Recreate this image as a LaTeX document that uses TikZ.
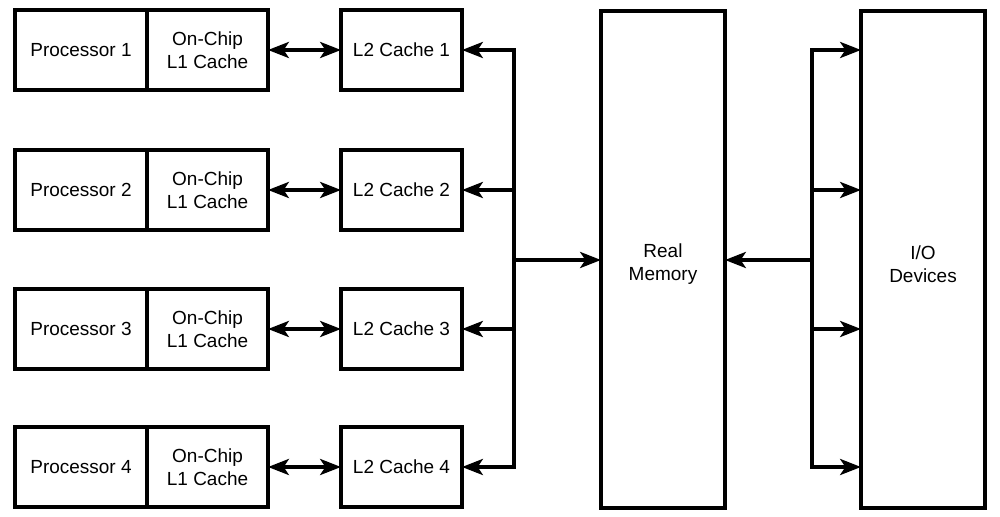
\documentclass[tikz,border=0pt]{standalone}
\usepackage{fontspec}
\setmainfont{Liberation Sans}
\usetikzlibrary{arrows.meta}
\usetikzlibrary{positioning}
\tikzset{
  unitbox/.style={draw, line width=2.5pt, outer sep=0pt, inner sep=0pt,
    minimum height=2cm, align=center, font=\fontsize{13.5}{16.3}\selectfont},
  link/.style={line width=2.6pt},
  >={Stealth[length=5.2mm,width=4mm,inset=1.3mm]}
}
\newcommand{\cpurow}[2]{
  \node[unitbox, minimum width=3.3cm] (proc#1) at (81,#2) {Processor #1};
  \node[unitbox, minimum width=3.025cm, right=0pt of proc#1] (lone#1) {On-Chip\\L1 Cache};
  \node[unitbox, minimum width=3.025cm] (ltwo#1) at (401.5,#2) {L2 Cache #1};
  \draw[link,<->] (lone#1) -- (ltwo#1);}

\begin{document}
\begin{tikzpicture}[x=0.025cm, y=-0.025cm]
        \useasboundingbox (0,0) rectangle (1000,517);

        % processors with their caches
        \cpurow{1}{50}
        \cpurow{2}{190}
        \cpurow{3}{329}
        \cpurow{4}{467}

        % memory and devices
        \node[unitbox, minimum width=3.1cm, minimum height=12.425cm, text height=33pt] (mem) at (663,259.5) {Real\\Memory};
        \node[unitbox, minimum width=3.1cm, minimum height=12.425cm, text height=33pt] (io) at (923,259.5) {I/O\\Devices};

        % left bus
        \coordinate (lbus) at (514,260);
        \draw[link,<->] (ltwo1.east) -| (lbus) |- (ltwo4.east);
        \draw[link,->] (lbus |- ltwo2) -- (ltwo2.east);
        \draw[link,->] (lbus |- ltwo3) -- (ltwo3.east);
        \draw[link,->] (lbus) -- (lbus -| mem.west);

        % right bus
        \coordinate (rbus) at (812,260);
        \draw[link,<->] (io.west |- ltwo1) -| (rbus) |- (io.west |- ltwo4);
        \draw[link,->] (rbus |- ltwo2) -- (io.west |- ltwo2);
        \draw[link,->] (rbus |- ltwo3) -- (io.west |- ltwo3);
        \draw[link,->] (rbus) -- (rbus -| mem.east);

\end{tikzpicture}
\end{document}
